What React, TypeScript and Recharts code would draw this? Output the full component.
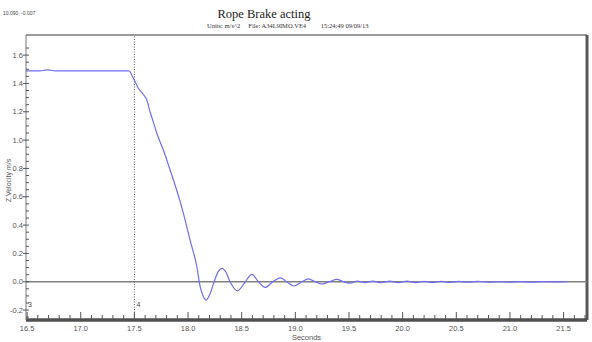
import React from "react";
import {
  LineChart,
  Line,
  XAxis,
  YAxis,
  ReferenceLine,
  ReferenceDot,
  Label,
} from "recharts";

// ---- data ----
const timeSec = [
  16.49, 16.55, 16.62, 16.66, 16.69, 16.72, 16.76, 16.9, 17.1, 17.3, 17.44, 17.453,
  17.47, 17.491, 17.515, 17.537, 17.575, 17.616, 17.646, 17.68, 17.709, 17.77,
  17.833, 17.864, 17.889, 17.957, 18.019, 18.082, 18.113, 18.14, 18.169, 18.2,
  18.243, 18.28, 18.318, 18.355, 18.392, 18.46, 18.534, 18.595, 18.656, 18.719,
  18.79, 18.859, 18.92, 18.989, 19.06, 19.122, 19.185, 19.247, 19.318, 19.387,
  19.449, 19.511, 19.58, 19.65, 19.72, 19.8, 19.88, 19.96, 20.04, 20.12, 20.2,
  20.28, 20.36, 20.44, 20.52, 20.6, 20.7, 20.8, 20.9, 21.0, 21.1, 21.2, 21.3,
  21.4, 21.53,
];
const zVelocity = [
  1.489, 1.489, 1.489, 1.493, 1.496, 1.493, 1.489, 1.489, 1.489, 1.489, 1.489, 1.488,
  1.468, 1.436, 1.4, 1.366, 1.33, 1.283, 1.2, 1.12, 1.048, 0.93,
  0.789, 0.718, 0.66, 0.483, 0.294, 0.106, -0.035, -0.1, -0.129, -0.095,
  0.0, 0.07, 0.095, 0.065, 0.0, -0.064, 0.0, 0.052, 0.0, -0.04,
  0.0, 0.028, 0.0, -0.03, 0.0, 0.021, 0.0, -0.016, 0.0, 0.017,
  0.0, -0.009, 0.004, -0.006, 0.005, -0.007, 0.004, -0.006, 0.004, -0.006, 0.003,
  -0.005, 0.003, -0.004, 0.002, -0.003, 0.002, -0.002, 0.001, -0.002, 0.001, -0.002, 0.001,
  -0.001, 0.0,
];
const majorXTicks = [16.5, 17.0, 17.5, 18.0, 18.5, 19.0, 19.5, 20.0, 20.5, 21.0, 21.5];
const majorYTicks = [-0.2, 0.0, 0.2, 0.4, 0.6, 0.8, 1.0, 1.2, 1.4, 1.6];
const xDomain: [number, number] = [16.49, 21.718];
const yDomain: [number, number] = [-0.27, 1.742];
const cursorTime = 17.5;
const markers = [
  { x: 16.49, y: -0.16, label: "3" },
  { x: 17.5, y: -0.16, label: "4" },
];

const title = "Rope Brake acting";
const subtitle = "Units: m/s^2     File: A34L9IMO.VE4         15:24:49 09/09/13";
const cornerText = "10.090, -0.007";

const data = timeSec.map((t, i) => ({ t, v: zVelocity[i] }));

const minorX: number[] = [];
for (let i = 0; i <= 52; i++) {
  const v = Math.round((16.5 + i * 0.1) * 100) / 100;
  if (v <= xDomain[1]) minorX.push(v);
}
const minorY: number[] = [];
for (let i = 0; i <= 38; i++) {
  const v = Math.round((-0.25 + i * 0.05) * 100) / 100;
  if (v <= yDomain[1] && v >= yDomain[0]) minorY.push(v);
}

const isMajor = (arr: number[], v: number) => arr.some((m) => Math.abs(m - v) < 1e-6);

const FONT = "'Liberation Sans', Arial, sans-serif";

const XTick = (props: any) => {
  const { x, y, payload } = props;
  const v = payload.value as number;
  const major = isMajor(majorXTicks, v);
  return (
    <g>
      <line x1={x} x2={x} y1={y - 1} y2={y - (major ? 8 : 5)} stroke="#555" strokeWidth={1} />
      {major && (
        <text x={x} y={y + 11} textAnchor="middle" fontSize={7.5} fill="#555" fontFamily={FONT}>
          {v.toFixed(1)}
        </text>
      )}
    </g>
  );
};

const YTick = (props: any) => {
  const { x, y, payload } = props;
  const v = payload.value as number;
  const major = isMajor(majorYTicks, v);
  return (
    <g>
      <line x1={major ? x - 3 : x} x2={x + 3} y1={y} y2={y} stroke="#555" strokeWidth={1} />
      {major && (
        <text x={x - 3} y={y + 2.7} textAnchor="end" fontSize={7.5} fill="#555" fontFamily={FONT}>
          {v.toFixed(1)}
        </text>
      )}
    </g>
  );
};

export default function App() {
  return (
    <div
      style={{
        position: "fixed",
        left: 0,
        top: 0,
        width: 592,
        height: 342,
        background: "#fff",
        overflow: "hidden",
      }}
    >
      <div
        style={{
          position: "absolute",
          left: 3,
          top: 10,
          fontSize: 5,
          fontFamily: FONT,
          color: "#444",
          whiteSpace: "nowrap",
        }}
      >
        {cornerText}
      </div>
      <div
        style={{
          position: "absolute",
          left: 0,
          width: 528,
          top: 7,
          textAlign: "center",
          fontSize: 12.5,
          fontFamily: "'Liberation Serif', 'Times New Roman', serif",
          color: "#222",
          whiteSpace: "nowrap",
          lineHeight: "14px",
        }}
      >
        {title}
      </div>
      <div
        style={{
          position: "absolute",
          left: 207,
          top: 22,
          fontSize: 6.5,
          fontFamily: "'Liberation Serif', 'Times New Roman', serif",
          color: "#333",
          whiteSpace: "pre",
          lineHeight: "8px",
        }}
      >
        {subtitle}
      </div>
      <div style={{ position: "absolute", left: 0, top: 0 }}>
        <LineChart
          width={592}
          height={342}
          data={data}
          margin={{ top: 35, right: 5, bottom: 0, left: 0 }}
        >
          <XAxis
            dataKey="t"
            type="number"
            domain={xDomain}
            ticks={minorX}
            interval={0}
            allowDataOverflow
            height={22}
            tickSize={0}
            tickMargin={0}
            tickLine={false}
            tick={<XTick />}
            axisLine={{ stroke: "#505050", strokeWidth: 3.5 }}
          >
            <Label
              value="Seconds"
              position="insideBottom"
              offset={2}
              style={{ fontSize: 7.5, fill: "#555", fontFamily: FONT }}
            />
          </XAxis>
          <YAxis
            type="number"
            domain={yDomain}
            ticks={minorY}
            interval={0}
            allowDataOverflow
            width={26}
            tickSize={0}
            tickMargin={0}
            tickLine={false}
            tick={<YTick />}
            axisLine={{ stroke: "#777", strokeWidth: 1 }}
          >
            <Label
              content={(p: any) => {
                const vb = p.viewBox || {};
                const cx = 11;
                const cy = (vb.y ?? 35) + (vb.height ?? 285) / 2 + 3;
                return (
                  <text
                    x={cx}
                    y={cy}
                    transform={`rotate(-90 ${cx} ${cy})`}
                    textAnchor="middle"
                    fontSize={7}
                    fill="#555"
                    fontFamily={FONT}
                  >
                    Z Velocity m/s
                  </text>
                );
              }}
            />
          </YAxis>
          <ReferenceLine y={yDomain[1]} stroke="#9a9a9a" strokeWidth={2} />
          <ReferenceLine x={xDomain[1]} stroke="#5a5a5a" strokeWidth={3} />
          <ReferenceLine y={0} stroke="#808080" strokeWidth={1.3} />
          <ReferenceLine x={cursorTime} stroke="#555" strokeWidth={1} strokeDasharray="1 1.5" />
          {markers.map((m) => (
            <ReferenceDot
              key={m.label}
              x={m.x}
              y={m.y}
              r={0}
              stroke="none"
              fill="none"
              label={{
                value: m.label,
                position: "right",
                offset: 2,
                style: { fontSize: 7, fill: "#444", fontFamily: FONT },
              }}
            />
          ))}
          <Line
            type="monotone"
            dataKey="v"
            stroke="#6e6ef5"
            strokeWidth={1.2}
            dot={false}
            isAnimationActive={false}
          />
        </LineChart>
      </div>
    </div>
  );
}
